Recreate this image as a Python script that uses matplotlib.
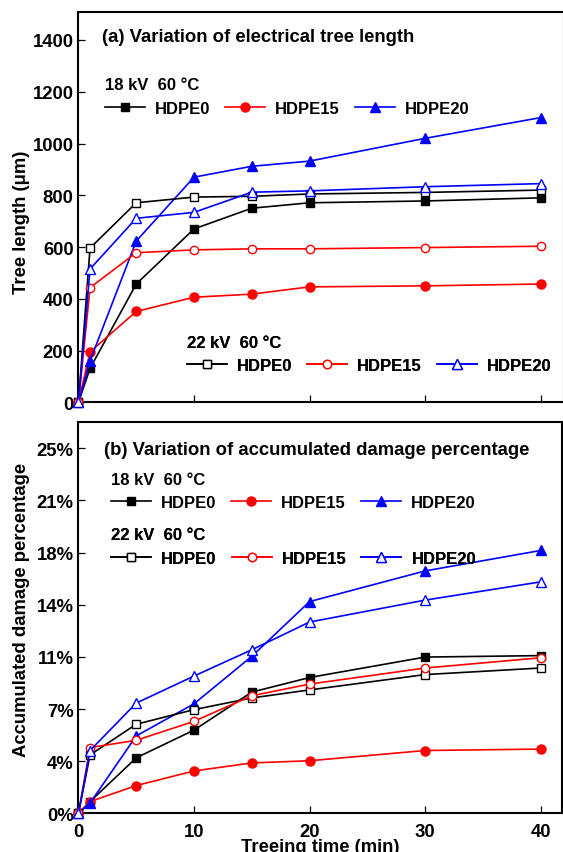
import numpy as np
import matplotlib
matplotlib.use('Agg')
import matplotlib.pyplot as plt
from matplotlib.ticker import FuncFormatter

plt.rcParams['font.family'] = ['Liberation Sans', 'DejaVu Sans']
plt.rcParams['font.weight'] = 'bold'

# treeing time (min)
time_min = [0, 1, 5, 10, 15, 20, 30, 40]
samples = ['HDPE0', 'HDPE15', 'HDPE20']

# (a) tree length in um
len_18kv_hdpe0 = [0, 131, 457, 670, 750, 771, 778, 790]
len_18kv_hdpe15 = [0, 195, 351, 406, 418, 446, 450, 457]
len_18kv_hdpe20 = [0, 160, 623, 870, 912, 932, 1020, 1100]
len_22kv_hdpe0 = [0, 596, 771, 793, 796, 805, 811, 820]
len_22kv_hdpe15 = [0, 443, 578, 589, 593, 593, 598, 603]
len_22kv_hdpe20 = [0, 515, 711, 734, 812, 817, 833, 845]

# (b) accumulated damage percentage in %
dmg_18kv_hdpe0 = [0, 0.8, 3.8, 5.7, 8.3, 9.3, 10.7, 10.8]
dmg_18kv_hdpe15 = [0, 0.8, 1.9, 2.9, 3.45, 3.6, 4.3, 4.4]
dmg_18kv_hdpe20 = [0, 0.7, 5.3, 7.5, 10.75, 14.5, 16.6, 18.0]
dmg_22kv_hdpe0 = [0, 4.0, 6.1, 7.1, 7.9, 8.45, 9.5, 9.95]
dmg_22kv_hdpe15 = [0, 4.5, 5.0, 6.3, 8.05, 8.85, 9.95, 10.65]
dmg_22kv_hdpe20 = [0, 4.3, 7.55, 9.4, 11.2, 13.1, 14.6, 15.85]

colors = ['black', 'red', 'blue']
markers = ['s', 'o', '^']
msizes = [6, 6.5, 7.5]

fig = plt.figure(figsize=(5.63, 8.53), dpi=100)
ax_a = fig.add_axes([0.1394, 0.5272, 0.8623, 0.4572])
ax_b = fig.add_axes([0.1394, 0.04537, 0.8597, 0.4584])


def draw_series(ax, series18, series22):
    h18, h22 = [], []
    for ys, c, m, ms in zip(series18, colors, markers, msizes):
        ln, = ax.plot(time_min, ys, color=c, marker=m, ms=ms, lw=1.2,
                      mfc=c, mec=c, clip_on=False, zorder=3)
        h18.append(ln)
    for ys, c, m, ms in zip(series22, colors, markers, msizes):
        ln, = ax.plot(time_min, ys, color=c, marker=m, ms=ms - 0.5, lw=1.2,
                      mfc='white', mec=c, mew=1.0, clip_on=False, zorder=3)
        h22.append(ln)
    return h18, h22


def add_legend(ax, handles, title, x, y):
    leg = ax.legend(handles, samples, ncol=3, loc='upper left',
                    bbox_to_anchor=(x, y), frameon=False, title=title,
                    alignment='left', borderpad=0, borderaxespad=0,
                    handlelength=2.4, handletextpad=0.6, columnspacing=0.9,
                    labelspacing=0.5, numpoints=1,
                    prop={'size': 12, 'weight': 'bold'},
                    title_fontproperties={'size': 12, 'weight': 'bold'})
    ax.add_artist(leg)


def style_axes(ax):
    for sp in ax.spines.values():
        sp.set_linewidth(1.5)
    ax.tick_params(direction='in', length=5, width=0.9, labelsize=13.3)
    ax.tick_params(axis='x', pad=7)
    ax.set_xticks([0, 10, 20, 30, 40])


# (a)
h18, h22 = draw_series(ax_a, [len_18kv_hdpe0, len_18kv_hdpe15, len_18kv_hdpe20],
                       [len_22kv_hdpe0, len_22kv_hdpe15, len_22kv_hdpe20])
style_axes(ax_a)
ax_a.set_xlim(0, 42.02)
ax_a.set_ylim(0, 1507)
ax_a.set_yticks(np.arange(0, 1401, 200))
ax_a.tick_params(axis='x', labelbottom=False)
ax_a.set_ylabel('Tree length (μm)', fontsize=13.3, fontweight='bold')
ax_a.yaxis.set_label_coords(-0.100, 0.465)
ax_a.text(0.049, 0.9277, '(a) Variation of electrical tree length',
          transform=ax_a.transAxes, fontsize=13.3, fontweight='bold',
          ha='left', va='baseline')
add_legend(ax_a, h18, '18 kV  60 °C', 0.0546, 0.833)
add_legend(ax_a, h22, '22 kV  60 °C', 0.223, 0.1736)

# (b)
h18, h22 = draw_series(ax_b, [dmg_18kv_hdpe0, dmg_18kv_hdpe15, dmg_18kv_hdpe20],
                       [dmg_22kv_hdpe0, dmg_22kv_hdpe15, dmg_22kv_hdpe20])
style_axes(ax_b)
ax_b.set_xlim(0, 41.89)
ax_b.set_ylim(0, 26.78)
ax_b.set_yticks(np.linspace(0, 25, 8))
ax_b.yaxis.set_major_formatter(FuncFormatter(lambda v, p: f'{v:.0f}%'))
ax_b.set_ylabel('Accumulated damage percentage', fontsize=13.3, fontweight='bold')
ax_b.yaxis.set_label_coords(-0.100, 0.522)
ax_b.set_xlabel('Treeing time (min)', fontsize=13.3, fontweight='bold')
ax_b.xaxis.set_label_coords(0.5, -0.064)
ax_b.text(0.0527, 0.920, '(b) Variation of accumulated damage percentage',
          transform=ax_b.transAxes, fontsize=13.3, fontweight='bold',
          ha='left', va='baseline')
add_legend(ax_b, h18, '18 kV  60 °C', 0.0663, 0.874)
add_legend(ax_b, h22, '22 kV  60 °C', 0.0678, 0.731)

fig.savefig('out.png', dpi=100)
plt.close(fig)
